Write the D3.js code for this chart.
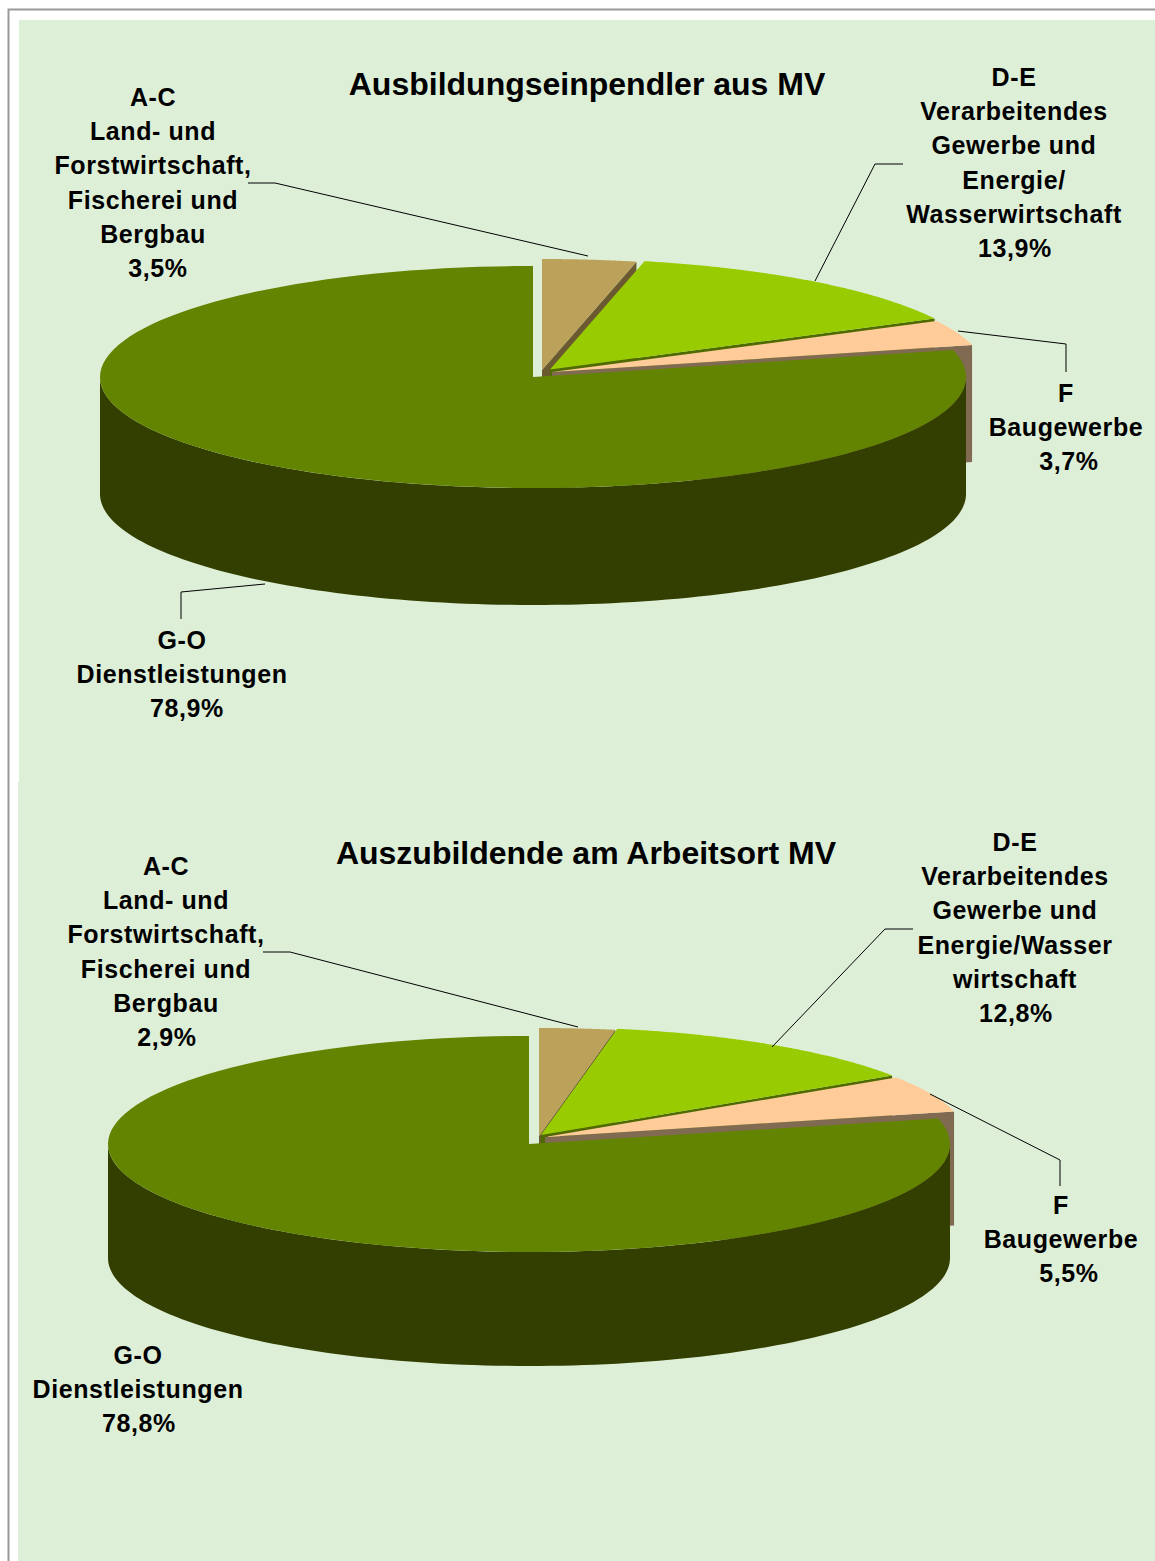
<!DOCTYPE html>
<html><head><meta charset="utf-8"><script src="https://cdn.jsdelivr.net/npm/d3@7"></script>
<style>html,body{margin:0;padding:0;background:#fff}svg{display:block}text{font-family:"Liberation Sans",Arial,sans-serif;font-weight:bold;fill:#000}</style></head><body>
<script>
const categories=["A-C","D-E","F","G-O"];
const sharesTop=[3.5,13.9,3.7,78.9];
const sharesBottom=[2.9,12.8,5.5,78.8];
const sliceColors=["#bba15a","#99cc00","#ffcc99","#628400"];
const wallColors=["#6b5a30","#4f6a00","#806b52","#333f00"];
const titleTop="Ausbildungseinpendler aus MV";
const titleBottom="Auszubildende am Arbeitsort MV";
const labelsTop=[["A-C","Land- und","Forstwirtschaft,","Fischerei und","Bergbau","3,5%"],["D-E","Verarbeitendes","Gewerbe und","Energie/","Wasserwirtschaft","13,9%"],["F","Baugewerbe","3,7%"],["G-O","Dienstleistungen","78,9%"]];
const labelsBottom=[["A-C","Land- und","Forstwirtschaft,","Fischerei und","Bergbau","2,9%"],["D-E","Verarbeitendes","Gewerbe und","Energie/Wasser","wirtschaft","12,8%"],["F","Baugewerbe","5,5%"],["G-O","Dienstleistungen","78,8%"]];

const W=1155,H=1561;
const svg=d3.select("body").append("svg").attr("width",W).attr("height",H);
svg.append("rect").attr("x",8.5).attr("y",9.5).attr("width",W).attr("height",H).attr("fill","#fff").attr("stroke","#999").attr("stroke-width",2);
svg.append("rect").attr("x",19).attr("y",20).attr("width",W-19).attr("height",H-20).attr("fill","#deefd8");
svg.append("rect").attr("x",18).attr("y",782).attr("width",W-18).attr("height",H-782).attr("fill","#deefd8");

function drawPie(cfg){
  const g=svg.append("g");
  const pie=d3.pie().sort(null).value(d=>d)(cfg.values);
  const line=d3.line();
  const pt=(a,c)=>[c[0]+cfg.rx*Math.sin(a),c[1]-cfg.ry*Math.cos(a)];
  const arcPts=(s,e,c)=>d3.range(0,121).map(i=>pt(s+(e-s)*i/120,c));
  const drop=q=>[q[0],q[1]+cfg.depth];
  // far to near: cut wall, then top face, per slice A, D, F
  [0,1,2].forEach(i=>{
    const p=pie[i],c=cfg.centers[i],e=pt(p.endAngle,c);
    g.append("path").attr("d",line([c,e,drop(e),drop(c)])+"Z").attr("fill",wallColors[i]);
    g.append("path").attr("d",line([c].concat(arcPts(p.startAngle,p.endAngle,c)))+"Z").attr("fill",sliceColors[i]);
  });
  // G-O outer wall and top face
  const p=pie[3],c=cfg.centers[3];
  const rim=arcPts(Math.PI/2,Math.PI*1.5,c);
  g.append("path").attr("d",line(rim.concat(rim.map(drop).reverse()))+"Z").attr("fill",wallColors[3]);
  g.append("path").attr("d",line([c].concat(arcPts(p.startAngle,p.endAngle,c)))+"Z").attr("fill",sliceColors[3]);

  g.append("text").attr("x",cfg.titleX).attr("y",cfg.titleY).attr("text-anchor","middle").attr("font-size",32).text(cfg.title);
  cfg.labels.forEach((l,i)=>{
    const t=g.append("text").attr("text-anchor","middle").attr("font-size",25).attr("letter-spacing",0.6);
    l.forEach((s,k)=>t.append("tspan")
      .attr("x",cfg.labelPos[i][0]+(k===l.length-1?cfg.pctShift[i]:0))
      .attr("y",cfg.labelPos[i][1]+k*34.2).text(s));
  });
  cfg.leaders.forEach(pts=>g.append("path").attr("d",line(pts)).attr("fill","none").attr("stroke","#000").attr("stroke-width",1));
}
drawPie({values:sharesTop,rx:433,ry:111,depth:117,
 centers:[[542,370],[550,369.5],[552,372],[533,377]],
 title:titleTop,titleX:587,titleY:95,labels:labelsTop,
 labelPos:[[153,106],[1014,86],[1066,402],[182,649]],pctShift:[5,1,3,5],
 leaders:[[[248,183],[275,183],[588,256]],[[815,281],[875,164],[903,164]],[[958,331],[1066,344],[1066,372]],[[265,584],[181,592],[181,619]]]});
drawPie({values:sharesBottom,rx:421,ry:108,depth:114,
 centers:[[539,1136],[541,1135],[545,1137],[529,1144]],
 title:titleBottom,titleX:586,titleY:864,labels:labelsBottom,
 labelPos:[[166,875],[1015,851],[1061,1214],[138,1364]],pctShift:[1,1,8,1],
 leaders:[[[263,952],[290,952],[578,1027]],[[772,1047],[885,929],[913,929]],[[930,1094],[1060,1160],[1060,1186]]]});
</script></body></html>
